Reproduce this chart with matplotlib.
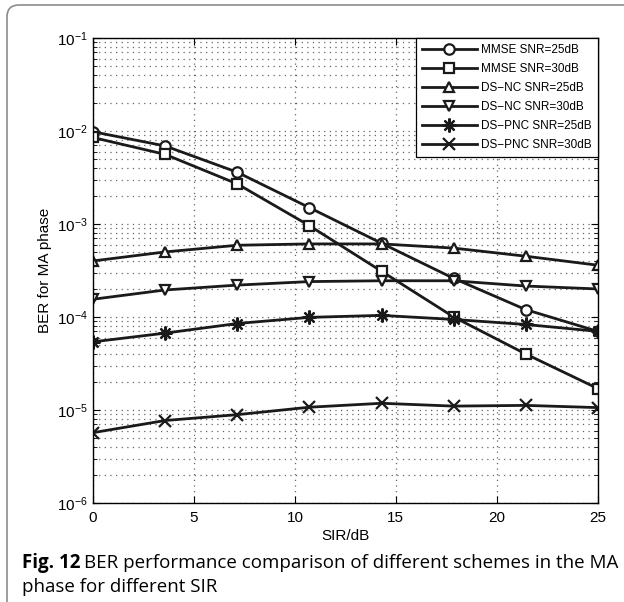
import numpy as np
import matplotlib.pyplot as plt
from matplotlib.patches import FancyBboxPatch
from matplotlib.ticker import LogLocator, NullFormatter
from matplotlib.transforms import offset_copy

sir = [0, 3.57, 7.14, 10.71, 14.29, 17.86, 21.43, 25]

mmse_25 = [9.8e-3, 6.9e-3, 3.6e-3, 1.5e-3, 6.2e-4, 2.6e-4, 1.2e-4, 7.0e-5]
mmse_30 = [8.5e-3, 5.6e-3, 2.7e-3, 9.6e-4, 3.1e-4, 1.0e-4, 4.0e-5, 1.7e-5]
dsnc_25 = [4.0e-4, 5.0e-4, 5.9e-4, 6.1e-4, 6.1e-4, 5.5e-4, 4.5e-4, 3.6e-4]
dsnc_30 = [1.55e-4, 1.95e-4, 2.2e-4, 2.4e-4, 2.45e-4, 2.45e-4, 2.15e-4, 2.0e-4]
dspnc_25 = [5.4e-5, 6.7e-5, 8.5e-5, 9.9e-5, 1.04e-4, 9.4e-5, 8.3e-5, 7.0e-5]
dspnc_30 = [5.7e-6, 7.7e-6, 8.9e-6, 1.07e-5, 1.18e-5, 1.1e-5, 1.12e-5, 1.06e-5]

labels = ['MMSE SNR=25dB', 'MMSE SNR=30dB', 'DS\u2212NC SNR=25dB',
          'DS\u2212NC SNR=30dB', 'DS\u2212PNC SNR=25dB', 'DS\u2212PNC SNR=30dB']
series = [mmse_25, mmse_30, dsnc_25, dsnc_30, dspnc_25, dspnc_30]
markers = ['o', 's', '^', 'v', (8, 2, 0), 'x']
msizes = [7.5, 7.5, 7.5, 7.5, 10, 9]

plt.rcParams['font.family'] = ['Liberation Sans', 'DejaVu Sans']

fig = plt.figure(figsize=(6.24, 6.02), dpi=100)

# rounded frame around the figure panel (runs off right and bottom)
frame = FancyBboxPatch((7, -40), 680, 637, boxstyle='round,pad=0,rounding_size=12',
                       transform=None, fill=False, edgecolor='#8c8c8c', linewidth=1.2)
fig.patches.append(frame)

ax = fig.add_axes([0.149, 0.1645, 0.809, 0.7725])

for y, lab, m, ms in zip(series, labels, markers, msizes):
    ax.plot(sir, y, color='#1a1a1a', linewidth=2.0, marker=m, markersize=ms,
            markerfacecolor='white' if m in ('o', 's', '^', 'v') else '#1a1a1a',
            markeredgecolor='#1a1a1a', markeredgewidth=1.6, label=lab)

ax.set_yscale('log')
ax.set_xlim(0, 25)
ax.set_ylim(1e-6, 1e-1)
ax.set_xticks([0, 5, 10, 15, 20, 25])
ax.yaxis.set_major_locator(LogLocator(base=10, numticks=10))
ax.yaxis.set_minor_locator(LogLocator(base=10, subs=np.arange(2, 10), numticks=10))
ax.yaxis.set_minor_formatter(NullFormatter())
dots = (0, (1, 3.5))
ax.grid(True, which='major', linestyle=dots, color='#666666', linewidth=0.9)
ax.grid(True, which='minor', axis='y', linestyle=dots, color='#666666', linewidth=0.9)
ax.tick_params(direction='in', which='both', top=True, right=True, labelsize=11)
ax.tick_params(which='major', length=5)
ax.tick_params(which='minor', length=3)
ax.tick_params(axis='x', pad=6)
for s in ax.spines.values():
    s.set_linewidth(1.0)

ax.set_xlabel('SIR/dB', fontsize=11, labelpad=3)
ax.set_ylabel('BER for MA phase', fontsize=11, labelpad=4)

leg = ax.legend(loc='upper right', fontsize=8.5, handlelength=4.6, borderpad=0.5,
                labelspacing=0.6, handletextpad=0.4, fancybox=False, framealpha=1,
                borderaxespad=0)
leg.get_frame().set_edgecolor('black')
leg.get_frame().set_linewidth(0.9)

# caption: bold "Fig. 12" followed by regular text
cap_font = dict(fontsize=13.5, family='Open Sans', va='baseline')
t1 = fig.text(0.035, 0.056, 'Fig. 12', fontweight='bold', **cap_font)
fig.canvas.draw()
w = t1.get_window_extent().width
fig.text(0.035, 0.056, 'BER performance comparison of different schemes in the MA',
         transform=offset_copy(fig.transFigure, fig=fig, x=w + 4, y=0, units='dots'),
         **cap_font)
fig.text(0.035, 0.016, 'phase for different SIR', **cap_font)

fig.savefig('out.png', dpi=100)
